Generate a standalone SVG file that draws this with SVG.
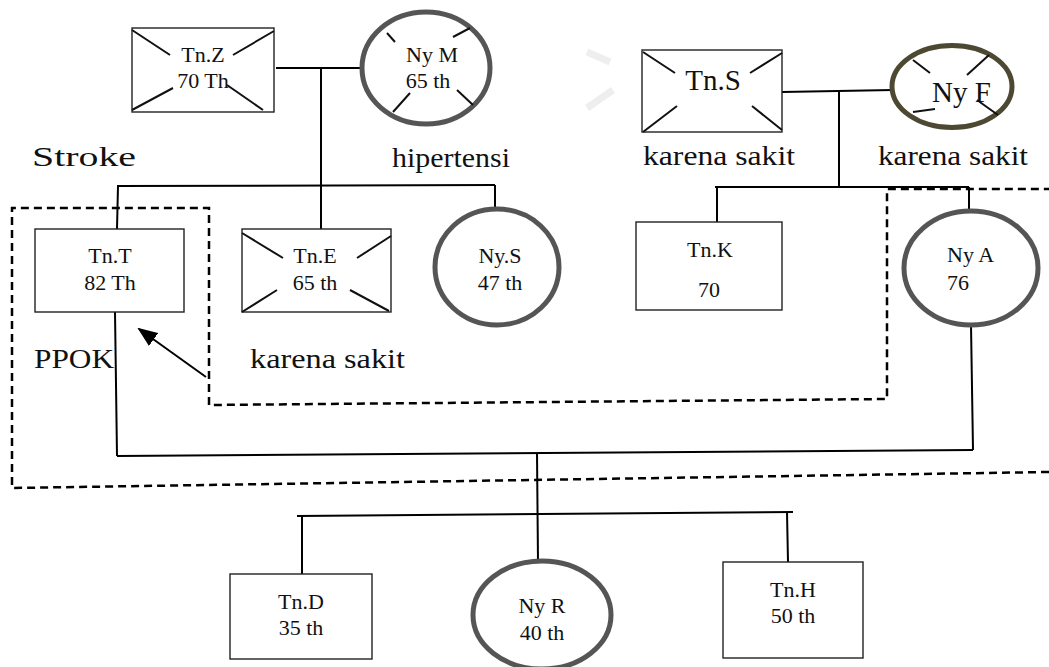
<svg xmlns="http://www.w3.org/2000/svg" width="1049" height="667" viewBox="0 0 1049 667">
<style>
text{font-family:"Liberation Serif","Times New Roman",serif;fill:#111}
.n{font-size:22px}
.big{font-size:29px}
.lbl{font-size:27px}
.box{fill:#fff;stroke:#222;stroke-width:1.4}
.ell{fill:#fff;stroke:#555;stroke-width:5}
.x{stroke:#111;stroke-width:2;fill:none}
.c{stroke:#000;stroke-width:2;fill:none}
.d{stroke:#000;stroke-width:2.5;fill:none;stroke-dasharray:8 5}
</style>
<defs>
<marker id="ah" markerWidth="10" markerHeight="8" refX="9" refY="4" orient="auto" markerUnits="strokeWidth">
<path d="M0,0 L10,4 L0,8 Z" fill="#000"/>
</marker>
</defs>
<rect width="1049" height="667" fill="#fff"/>
<g id="watermark" stroke="#eeeeee" stroke-width="7">
<line x1="587" y1="52" x2="610" y2="62"/>
<line x1="587" y1="108" x2="613" y2="90"/>
</g>
<g id="connectors">
<line class="c" x1="276" y1="68" x2="362" y2="68"/>
<line class="c" x1="321" y1="68" x2="321" y2="229"/>
<line class="c" x1="117" y1="186" x2="495" y2="185"/>
<line class="c" x1="118" y1="186" x2="117" y2="229"/>
<line class="c" x1="495" y1="185" x2="495" y2="209"/>
<line class="c" x1="782" y1="92" x2="893" y2="90"/>
<line class="c" x1="839" y1="91" x2="839" y2="187"/>
<line class="c" x1="715" y1="187" x2="969" y2="187"/>
<line class="c" x1="717" y1="187" x2="717" y2="222"/>
<line class="c" x1="969" y1="187" x2="969" y2="211"/>
<line class="c" x1="115" y1="312" x2="117" y2="456"/>
<line class="c" x1="971" y1="325" x2="973" y2="450"/>
<line class="c" x1="117" y1="456" x2="973" y2="450"/>
<line class="c" x1="537" y1="453" x2="538" y2="562"/>
<line class="c" x1="297" y1="516" x2="793" y2="512"/>
<line class="c" x1="302" y1="516" x2="302" y2="574"/>
<line class="c" x1="787" y1="512" x2="788" y2="562"/>
<path class="d" d="M1049,472 L12,488 L12,208 L209,208 L209,405 L887,399 L887,189 L1049,189"/>
<line x1="206" y1="377" x2="139" y2="329" stroke="#000" stroke-width="2" marker-end="url(#ah)"/>
</g>
<g id="TnZ">
<rect class="box" x="132" y="28" width="142" height="84"/>
<path class="x" d="M132,30 L170,55 M233,55 L274,31 M132,110 L173,88 M227,85 L263,110"/>
<text class="n" x="203" y="62" text-anchor="middle">Tn.Z</text>
<text class="n" x="203" y="88" text-anchor="middle">70 Th</text>
</g>
<g id="NyM">
<ellipse class="ell" cx="426" cy="68" rx="64" ry="56"/>
<path class="x" d="M387,33 L395,42 M453,37 L470,28 M393,112 L410,93 M457,90 L473,105"/>
<text class="n" x="432" y="62" text-anchor="middle">Ny M</text>
<text class="n" x="428" y="88" text-anchor="middle">65 th</text>
</g>
<g id="TnS">
<rect class="box" x="642" y="50" width="140" height="82"/>
<path class="x" d="M643,52 L675,73 M750,73 L782,53 M643,132 L677,106 M752,106 L782,130"/>
<text class="big" x="713" y="90" text-anchor="middle">Tn.S</text>
</g>
<g id="NyF">
<ellipse cx="952" cy="86.5" rx="60" ry="41" fill="#fff" stroke="#4d4831" stroke-width="5"/>
<path class="x" d="M913,60 L930,73 M967,75 L989,55 M913,112 L935,109 M977,100 L998,115"/>
<text class="big" x="932" y="102">Ny F</text>
</g>
<g id="labels">
<text class="lbl" x="32" y="166" textLength="104" lengthAdjust="spacingAndGlyphs">Stroke</text>
<text class="lbl" x="392" y="167" textLength="118" lengthAdjust="spacingAndGlyphs">hipertensi</text>
<text class="lbl" x="643" y="165" textLength="152" lengthAdjust="spacingAndGlyphs">karena sakit</text>
<text class="lbl" x="878" y="165" textLength="150" lengthAdjust="spacingAndGlyphs">karena sakit</text>
<text class="lbl" x="250" y="368" textLength="155" lengthAdjust="spacingAndGlyphs">karena sakit</text>
<text class="lbl" x="34" y="368" textLength="80" lengthAdjust="spacingAndGlyphs">PPOK</text>
</g>
<g id="TnT">
<rect class="box" x="35" y="229" width="149" height="83"/>
<text class="n" x="110" y="263" text-anchor="middle">Tn.T</text>
<text class="n" x="110" y="290" text-anchor="middle">82 Th</text>
</g>
<g id="TnE">
<rect class="box" x="242" y="229" width="149" height="83"/>
<path class="x" d="M242,233 L283,258 M357,258 L391,236 M242,312 L277,290 M350,290 L389,311"/>
<text class="n" x="315" y="263" text-anchor="middle">Tn.E</text>
<text class="n" x="315" y="290" text-anchor="middle">65 th</text>
</g>
<g id="NyS">
<ellipse class="ell" cx="497" cy="267" rx="62" ry="58"/>
<text class="n" x="500" y="263" text-anchor="middle">Ny.S</text>
<text class="n" x="500" y="290" text-anchor="middle">47 th</text>
</g>
<g id="TnK">
<rect class="box" x="636" y="222" width="146" height="88"/>
<text class="n" x="710" y="257" text-anchor="middle">Tn.K</text>
<text class="n" x="709" y="297" text-anchor="middle">70</text>
</g>
<g id="NyA">
<ellipse class="ell" cx="971" cy="268" rx="67" ry="57"/>
<text class="n" x="947" y="262">Ny A</text>
<text class="n" x="947" y="290">76</text>
</g>
<g id="TnD">
<rect class="box" x="230" y="574" width="142" height="85"/>
<text class="n" x="301" y="609" text-anchor="middle">Tn.D</text>
<text class="n" x="301" y="635" text-anchor="middle">35 th</text>
</g>
<g id="NyR">
<ellipse class="ell" cx="542" cy="615" rx="69" ry="54"/>
<text class="n" x="542" y="613" text-anchor="middle">Ny R</text>
<text class="n" x="542" y="640" text-anchor="middle">40 th</text>
</g>
<g id="TnH">
<rect class="box" x="723" y="562" width="140" height="96"/>
<text class="n" x="793" y="597" text-anchor="middle">Tn.H</text>
<text class="n" x="793" y="623" text-anchor="middle">50 th</text>
</g>
</svg>
